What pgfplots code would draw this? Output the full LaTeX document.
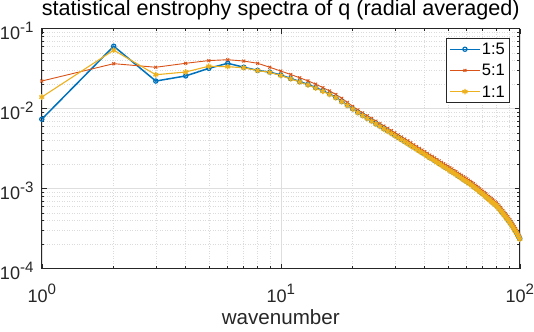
\documentclass[border=0pt]{standalone}
\usepackage{fontspec}
\setmainfont{Liberation Sans}
\usepackage{pgfplots}
\usepackage{pgfplotstable}
\pgfplotsset{compat=1.18}

\definecolor{mblue}{rgb}{0,0.447,0.741}
\definecolor{morange}{rgb}{0.850,0.325,0.098}
\definecolor{myellow}{rgb}{0.929,0.694,0.125}
\definecolor{maxis}{rgb}{0.15,0.15,0.15}

% 10^n label in the text font, as MATLAB draws it
\newcommand\tp[1]{10\raisebox{7.5bp}{\fontsize{15}{15}\selectfont #1}}

% wavenumber, 1:5, 5:1, 1:1
\pgfplotstableread{
k b o y
1 0.0074 0.0222 0.0140
2 0.0605 0.0366 0.054
3 0.0222 0.033 0.0266
4 0.0257 0.037 0.0288
5 0.032 0.040 0.034
6 0.037 0.041 0.0336
7 0.033 0.0395 0.0325
8 0.0302 0.037 0.030
9 0.0287 0.033 0.0285
10 0.0264 0.0296 0.026
11 0.0239 0.0268 0.0236
12 0.0219 0.0244 0.0216
13 0.0201 0.0223 0.0198
14 0.0184 0.0203 0.0181
15 0.0168 0.0184 0.0165
16 0.0153 0.0167 0.0151
17 0.0139 0.0151 0.0137
18 0.0124 0.0135 0.0122
19 0.0111 0.0120 0.0110
20 0.0100 0.0107 0.0099
21 0.00905 0.00968 0.00891
22 0.0083 0.00888 0.00818
23 0.00764 0.00817 0.00753
24 0.00707 0.00756 0.00696
25 0.00655 0.00701 0.00645
26 0.00609 0.00652 0.00600
27 0.00568 0.00608 0.00559
28 0.00532 0.00569 0.00524
29 0.00498 0.00533 0.00491
30 0.00467 0.00500 0.00460
31 0.00440 0.00471 0.00433
32 0.00415 0.00444 0.00409
33 0.00392 0.00419 0.00386
34 0.00371 0.00397 0.00365
35 0.00350 0.00375 0.00345
36 0.00332 0.00355 0.00327
37 0.00315 0.00337 0.00310
38 0.00299 0.00320 0.00295
39 0.00285 0.00305 0.00281
40 0.00272 0.00291 0.00268
41 0.00259 0.00277 0.00255
42 0.00247 0.00264 0.00243
43 0.00237 0.00254 0.00233
44 0.00227 0.00243 0.00224
45 0.00217 0.00232 0.00214
46 0.00208 0.00223 0.00205
47 0.00200 0.00214 0.00197
48 0.00192 0.00205 0.00189
49 0.00185 0.00198 0.00182
50 0.00178 0.00190 0.00175
51 0.00171 0.00183 0.00168
52 0.00165 0.00177 0.00163
53 0.00158 0.00169 0.00156
54 0.00153 0.00164 0.00151
55 0.00147 0.00157 0.00145
56 0.00142 0.00152 0.00140
57 0.00137 0.00147 0.00135
58 0.00132 0.00141 0.00130
59 0.00128 0.00137 0.00126
60 0.00124 0.00133 0.00122
61 0.00120 0.00128 0.00118
62 0.00116 0.00124 0.00114
63 0.00112 0.00120 0.00110
64 0.00108 0.00116 0.00106
65 0.00104 0.00111 0.00102
66 0.00100 0.00107 0.000985
67 0.00097 0.00104 0.000955
68 0.00093 0.000995 0.000916
69 0.00090 0.000963 0.000887
70 0.00087 0.000931 0.000857
71 0.00084 0.000899 0.000827
72 0.00081 0.000867 0.000798
73 0.00078 0.000835 0.000768
74 0.00075 0.000803 0.000739
75 0.00073 0.000781 0.000719
76 0.00070 0.000749 0.000690
77 0.00068 0.000728 0.000670
78 0.00066 0.000706 0.000650
79 0.00064 0.000685 0.000630
80 0.00062 0.000663 0.000611
81 0.000593 0.000635 0.000584
82 0.000568 0.000608 0.000559
83 0.000543 0.000581 0.000535
84 0.000520 0.000556 0.000512
85 0.000498 0.000533 0.000491
86 0.000476 0.000509 0.000469
87 0.000456 0.000488 0.000449
88 0.000436 0.000467 0.000429
89 0.000418 0.000447 0.000412
90 0.000400 0.000428 0.000394
91 0.000382 0.000409 0.000376
92 0.000364 0.000389 0.000359
93 0.000346 0.000370 0.000341
94 0.000329 0.000352 0.000324
95 0.000312 0.000334 0.000307
96 0.000297 0.000318 0.000293
97 0.000282 0.000302 0.000278
98 0.000266 0.000285 0.000262
99 0.000252 0.000270 0.000248
100 0.000238 0.000255 0.000234
}\spectra

\begin{document}
\begin{tikzpicture}
\begin{axis}[
  scale only axis,
  width=474bp, height=238bp,
  xmode=log, ymode=log,
  xmin=1, xmax=100, ymin=1e-4, ymax=1e-1,
  xtick={1,10,100},
  xticklabels={\tp{0},\tp{1},\tp{2}},
  ytick={1e-4,1e-3,1e-2,1e-1},
  yticklabels={\tp{-4},\tp{-3},\tp{-2},\tp{-1}},
  minor xtick={2,3,4,5,6,7,8,9,20,30,40,50,60,70,80,90},
  minor ytick={2e-4,3e-4,4e-4,5e-4,6e-4,7e-4,8e-4,9e-4,
               2e-3,3e-3,4e-3,5e-3,6e-3,7e-3,8e-3,9e-3,
               2e-2,3e-2,4e-2,5e-2,6e-2,7e-2,8e-2,9e-2},
  tick align=inside,
  major tick length=5bp, minor tick length=2.5bp,
  tick style={maxis, line width=0.5bp},
  axis line style={maxis, line width=0.6bp},
  grid=both,
  major grid style={draw=black!13, line width=0.5bp},
  minor grid style={draw=black!14, line width=0.5bp, dotted},
  tick label style={font=\fontsize{18}{18}\selectfont, text=maxis},
  xticklabel style={anchor=base, inner sep=0pt, yshift=-33bp},
  yticklabel style={anchor=base east, inner sep=0pt, xshift=-8bp, yshift=-11bp},
  title={statistical enstrophy spectra of q (radial averaged)},
  title style={at={(0.5,1)}, anchor=base, yshift=7bp, inner sep=0pt,
               font=\fontsize{21.5}{22}\selectfont, text=black},
  xlabel={wavenumber},
  xlabel style={at={(0.5,0)}, anchor=base, yshift=-55bp, inner sep=0pt,
                text depth=7bp,
                font=\fontsize{20.5}{21}\selectfont, text=maxis},
  legend cell align=left,
  legend image code/.code={
    \draw[mark repeat=2, mark phase=2, #1]
      plot coordinates {(0bp,0bp) (14.5bp,0bp) (29bp,0bp)};},
  legend style={at={(0.979,0.962)}, anchor=north east,
                draw=maxis, line width=0.6bp, fill=white,
                font=\fontsize{16.5}{17}\selectfont, text=black,
                row sep=5bp, inner xsep=3bp, inner ysep=3bp,
                nodes={inner sep=1.5bp, text height=12bp, text depth=1bp}},
]
\addplot[mblue, line width=1.5bp, mark=o, mark size=2.1bp,
         mark options={line width=1.2bp}] table[x=k, y=b] {\spectra};
\addlegendentry{1:5}
\addplot[morange, line width=0.9bp, mark=x, mark size=2bp,
         mark options={line width=0.9bp}] table[x=k, y=o] {\spectra};
\addlegendentry{5:1}
\addplot[myellow, line width=1.1bp, mark=asterisk, mark size=2.8bp,
         mark options={line width=1.3bp}] table[x=k, y=y] {\spectra};
\addlegendentry{1:1}
\end{axis}
\end{tikzpicture}
\end{document}
